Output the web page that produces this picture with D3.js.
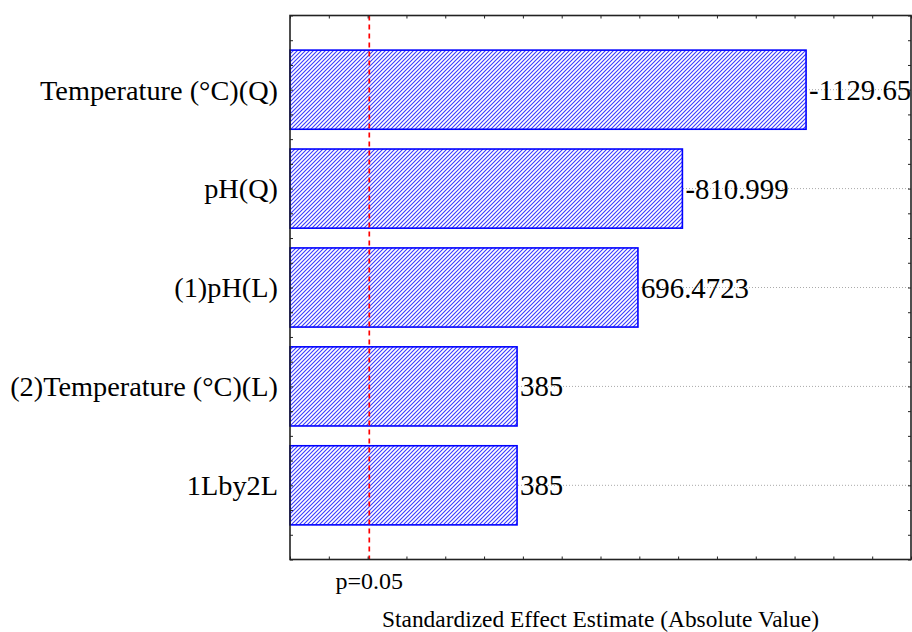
<!DOCTYPE html>
<html>
<head>
<meta charset="utf-8">
<script src="https://cdn.jsdelivr.net/npm/d3@7"></script>
<style>
  html, body { margin: 0; padding: 0; background: #fff; }
  svg { display: block; }
</style>
</head>
<body>
<svg id="chart" width="912" height="632"></svg>
<script>
// ---- data ----
const categories = ["Temperature (°C)(Q)", "pH(Q)", "(1)pH(L)", "(2)Temperature (°C)(L)", "1Lby2L"];
const effects = [-1129.65, -810.999, 696.4723, 385, 385];
const effectLabels = ["-1129.65", "-810.999", "696.4723", "385", "385"];
const pCritical = 4.303;
const pLabel = "p=0.05";
const xTitle = "Standardized Effect Estimate (Absolute Value)";
const xDomain = [-200, 1400];
const xTickValues = d3.range(-200, 1401, 100);

(function () {
// ---- layout ----
const plotL = 290, plotR = 911, plotT = 15.5, plotB = 559.5;
const svg = d3.select("#chart");

const x = d3.scaleLinear().domain(xDomain).range([plotL, plotR]);
const y = d3.scaleLinear().domain([0.25, categories.length + 0.75]).range([plotT, plotB]);
const barH = (y(1) - y(0)) * 0.8;
const serif = "'Liberation Serif', 'Times New Roman', serif";

// hatch pattern
const defs = svg.append("defs");
const pat = defs.append("pattern")
  .attr("id", "hatch").attr("patternUnits", "userSpaceOnUse")
  .attr("width", 4).attr("height", 4);
pat.append("rect").attr("width", 4).attr("height", 4).attr("fill", "#fff");
pat.append("path")
  .attr("d", "M-1,1 l2,-2 M0,4 l4,-4 M3,5 l2,-2")
  .attr("stroke", "#3a3aff").attr("stroke-width", 1.1).attr("fill", "none");

// grid lines (dotted) at category centers
svg.append("g").selectAll("line").data(categories).join("line")
  .attr("x1", plotL).attr("x2", plotR)
  .attr("y1", (d, i) => y(i + 1)).attr("y2", (d, i) => y(i + 1))
  .attr("stroke", "#aaa").attr("stroke-width", 1)
  .attr("stroke-dasharray", "1,2");

// bars
svg.append("g").selectAll("rect").data(effects).join("rect")
  .attr("x", x(xDomain[0]))
  .attr("y", (d, i) => y(i + 1) - barH / 2)
  .attr("width", d => x(Math.abs(d)) - x(xDomain[0]))
  .attr("height", barH)
  .attr("fill", "url(#hatch)")
  .attr("stroke", "#0000ff").attr("stroke-width", 1.6);

// value labels
svg.append("g").selectAll("text").data(effects).join("text")
  .attr("x", d => x(Math.abs(d)) + 3)
  .attr("y", (d, i) => y(i + 1))
  .attr("dy", "0.35em")
  .attr("font-family", serif).attr("font-size", 28.8).attr("fill", "#000")
  .text((d, i) => effectLabels[i]);

// category labels
svg.append("g").selectAll("text").data(categories).join("text")
  .attr("x", plotL - 12)
  .attr("y", (d, i) => y(i + 1))
  .attr("dy", "0.35em")
  .attr("text-anchor", "end")
  .attr("font-family", serif).attr("font-size", 28.3).attr("fill", "#000")
  .text(d => d);

// critical line
svg.append("line")
  .attr("x1", x(pCritical)).attr("x2", x(pCritical))
  .attr("y1", plotT).attr("y2", plotB)
  .attr("stroke", "#ff0000").attr("stroke-width", 1.7)
  .attr("stroke-dasharray", "5,4");

// axes (inward ticks, no labels)
const yTicks = d3.range(0.25, categories.length + 0.76, 0.25);
svg.append("g").attr("transform", `translate(0,${plotT})`)
  .call(d3.axisBottom(x).tickValues(xTickValues).tickSize(3).tickFormat(""))
  .call(g => g.select(".domain").remove());
svg.append("g").attr("transform", `translate(0,${plotB})`)
  .call(d3.axisTop(x).tickValues(xTickValues).tickSize(3).tickFormat(""))
  .call(g => g.select(".domain").remove());
svg.append("g").attr("transform", `translate(${plotL},0)`)
  .call(d3.axisRight(y).tickValues(yTicks).tickSize(3).tickFormat(""))
  .call(g => g.select(".domain").remove());
svg.append("g").attr("transform", `translate(${plotR},0)`)
  .call(d3.axisLeft(y).tickValues(yTicks).tickSize(3).tickFormat(""))
  .call(g => g.select(".domain").remove());
svg.selectAll(".tick line").attr("stroke", "#222");

// frame
svg.append("rect")
  .attr("x", plotL).attr("y", plotT)
  .attr("width", plotR - plotL).attr("height", plotB - plotT)
  .attr("fill", "none").attr("stroke", "#222").attr("stroke-width", 1.6);

// bottom labels
svg.append("text")
  .attr("x", x(pCritical)).attr("y", 589)
  .attr("text-anchor", "middle")
  .attr("font-family", serif).attr("font-size", 24).attr("fill", "#000")
  .text(pLabel);
svg.append("text")
  .attr("x", (plotL + plotR) / 2).attr("y", 627)
  .attr("text-anchor", "middle")
  .attr("font-family", serif).attr("font-size", 23.4).attr("fill", "#000")
  .text(xTitle);
})();
</script>
</body>
</html>
